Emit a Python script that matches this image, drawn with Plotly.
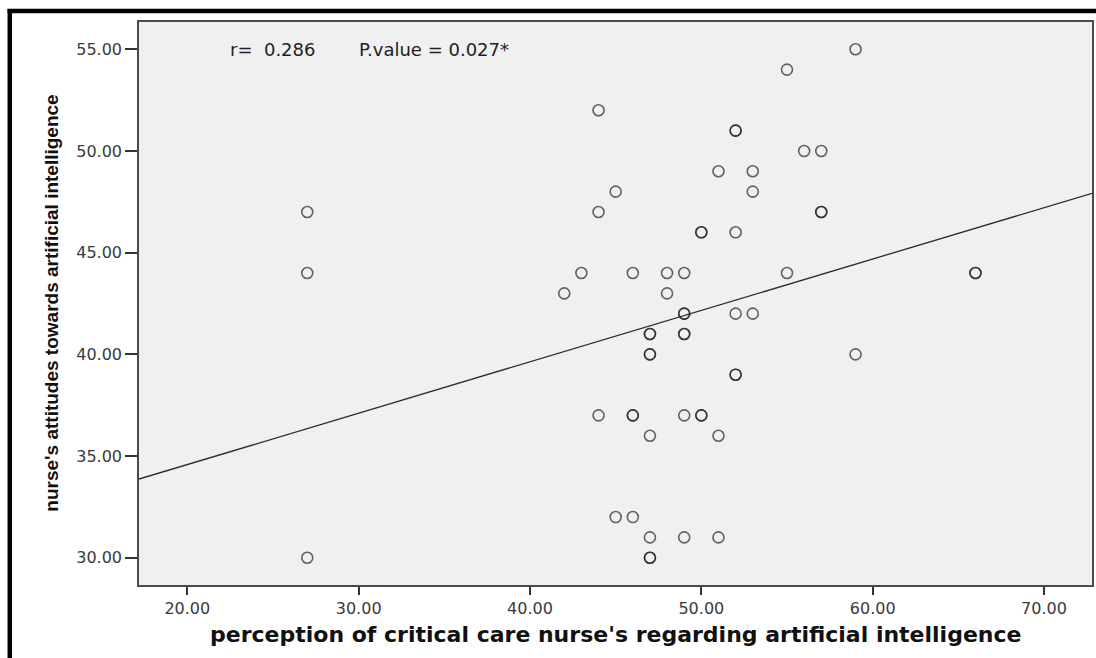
import plotly.graph_objects as go

# Perception score (x) and attitude score (y); duplicated pairs repeated
perception = [27, 27, 27, 42, 43, 44, 44, 44, 45, 45, 46, 46, 46, 46,
              47, 47, 47, 47, 47, 47, 47, 47, 48, 48, 49, 49, 49, 49, 49,
              49, 49, 50, 50, 50, 50, 51, 51, 51, 52, 52, 52, 52, 52, 52,
              53, 53, 53, 55, 55, 56, 57, 57, 57, 59, 59, 66, 66]
attitude = [47, 44, 30, 43, 44, 52, 47, 37, 48, 32, 44, 37, 37, 32,
            41, 41, 40, 40, 36, 31, 30, 30, 44, 43, 44, 42, 42, 41, 41,
            37, 31, 46, 46, 37, 37, 49, 36, 31, 51, 51, 46, 42, 39, 39,
            49, 48, 42, 54, 44, 50, 50, 47, 47, 55, 40, 44, 44]

# Fit line
fit_intercept = 29.53
fit_slope = 0.2526

x_range = [17.18, 72.8]
y_range = [28.66, 56.34]
x_ticks = [20, 30, 40, 50, 60, 70]
y_ticks = [30, 35, 40, 45, 50, 55]

r_text = "r=  0.286"
p_text = "P.value = 0.027*"
x_title = "perception of critical care nurse's regarding artificial intelligence"
y_title = "nurse's attitudes towards artificial intelligence"

fig = go.Figure()

fit_x = x_range
fit_y = [fit_intercept + fit_slope * v for v in fit_x]
fig.add_trace(go.Scatter(x=fit_x, y=fit_y, mode="lines",
                         line=dict(color="#2a2a2a", width=1.3),
                         hoverinfo="skip", showlegend=False))

fig.add_trace(go.Scatter(x=perception, y=attitude, mode="markers",
                         marker=dict(symbol="circle-open", size=11,
                                     color="rgba(30,30,30,0.68)",
                                     line=dict(width=1.6, color="rgba(30,30,30,0.68)")),
                         showlegend=False))

L, R, T, B = 139, 2, 22, 73
W, H = 1096, 658
pw = W - L - R
ph = H - T - B

def px_x(p):
    return (p - L) / pw

def px_y(p):
    return (H - B - p) / ph

axis_common = dict(showgrid=False, zeroline=False, showline=True, mirror=True,
                   linecolor="#4a4a4a", linewidth=1.5, ticks="outside",
                   tickcolor="#333333", tickformat=".2f",
                   tickfont=dict(family="DejaVu Sans", size=16, color="#3a3a3a"))

fig.update_layout(
    width=W, height=H,
    margin=dict(l=L, r=R, t=T, b=B),
    paper_bgcolor="white",
    plot_bgcolor="#f0f0f0",
    xaxis=dict(range=x_range, tickvals=x_ticks, ticklen=8, tickwidth=2, **axis_common),
    yaxis=dict(range=y_range, tickvals=y_ticks, ticklen=12, tickwidth=1.5, **axis_common),
    annotations=[
        dict(text=r_text, xref="paper", yref="y", x=px_x(228), y=55,
             xanchor="left", yanchor="middle", showarrow=False,
             font=dict(family="DejaVu Sans", size=18, color="#222222")),
        dict(text=p_text, xref="paper", yref="y", x=px_x(357), y=55,
             xanchor="left", yanchor="middle", showarrow=False,
             font=dict(family="DejaVu Sans", size=18, color="#222222")),
        dict(text=x_title, xref="paper", yref="paper", x=0.5, y=px_y(634),
             xanchor="center", yanchor="middle", showarrow=False,
             font=dict(family="DejaVu Sans", size=22, color="#111111", weight="bold")),
        dict(text=y_title, xref="paper", yref="paper", x=px_x(51), y=0.5,
             xanchor="center", yanchor="middle", showarrow=False, textangle=-90,
             font=dict(family="Liberation Sans", size=19, color="#111111", weight="bold")),
    ],
    shapes=[
        dict(type="line", xref="paper", yref="paper",
             x0=px_x(9.5), x1=px_x(9.5), y0=px_y(H + 5), y1=px_y(9),
             line=dict(color="black", width=4.5)),
        dict(type="line", xref="paper", yref="paper",
             x0=px_x(7.3), x1=px_x(W + 5), y0=px_y(11), y1=px_y(11),
             line=dict(color="black", width=4.5)),
    ],
)

fig.write_html("out.html", config={"displayModeBar": False},
               post_script="document.body.style.margin='0';document.body.style.padding='0';")
